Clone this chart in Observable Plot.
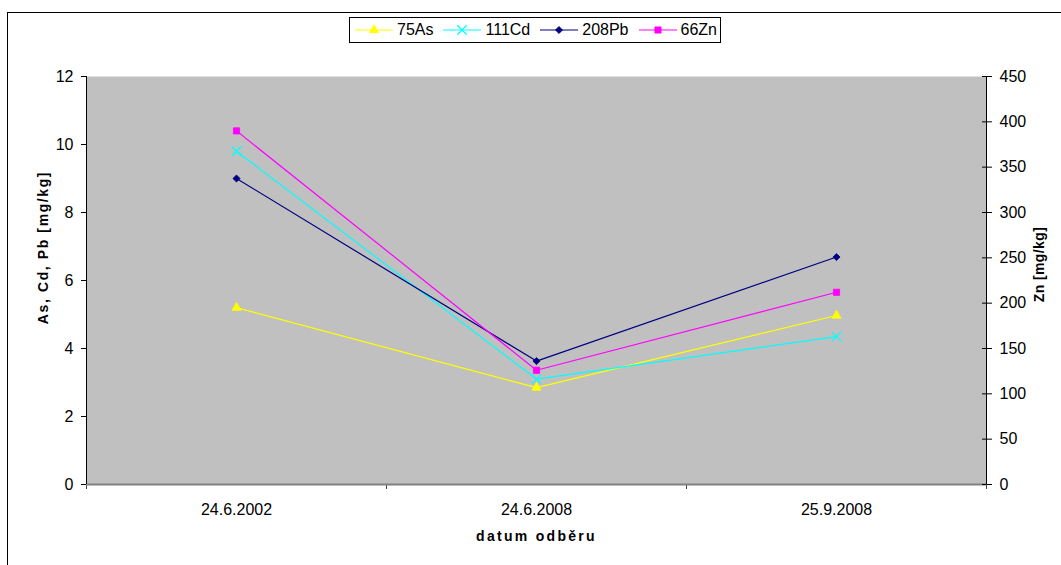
<!DOCTYPE html>
<html>
<head>
<meta charset="utf-8">
<script src="https://cdn.jsdelivr.net/npm/d3@7"></script>
<script src="https://cdn.jsdelivr.net/npm/@observablehq/plot@0.6"></script>
<style>
  body { margin: 0; background: #fff; font-family: "Liberation Sans", Arial, sans-serif; }
  #chart { position: relative; width: 1061px; height: 565px; overflow: hidden; }
  #chart svg.plot { position: absolute; left: 0; top: 0; }
  #frame { position: absolute; left: 7px; top: 12px; width: 1100px; height: 600px; border: 1px solid #000; }
  #legend {
    position: absolute; left: 349px; top: 17px; height: 26px; box-sizing: border-box; width: 372px;
    border: 1px solid #000; background: #fff; display: flex; align-items: center;
    padding-left: 5px; font-size: 16px; color: #000;
  }
  #legend .item { display: flex; align-items: center; margin-right: 10px; }
  #legend .item svg { display: block; margin-right: 4px; }
</style>
</head>
<body>
<div id="chart">
  <div id="frame"></div>
  <div id="legend"></div>
</div>
<script>
// Sampling dates (category axis)
const dates = ["24.6.2002", "24.6.2008", "25.9.2008"];

// Measured concentrations [mg/kg]
const as75 = [5.2, 2.85, 4.97];
const cd111 = [9.8, 3.1, 4.35];
const pb208 = [9.0, 3.63, 6.69];
const zn66 = [390, 126, 212];   // plotted against the secondary (right) axis

// Axis ticks
const leftTicks = [0, 2, 4, 6, 8, 10, 12];
const rightTicks = [0, 50, 100, 150, 200, 250, 300, 350, 400, 450];
const leftMax = 12, rightMax = 450;
const k = leftMax / rightMax; // secondary axis -> primary axis units

const seriesNames = ["75As", "111Cd", "208Pb", "66Zn"];
const seriesValues = [as75, cd111, pb208, zn66];
const onRight = [false, false, false, true];

// Styling per series
const colors = ["#ffff00", "#00ffff", "#000080", "#ff00ff"];
const symbols = ["triangle", "times", "diamond2", "square"];
const radii = [3.4, 4.4, 3.2, 3.5];

const rows = [];
seriesNames.forEach((name, s) => {
  seriesValues[s].forEach((v, i) => {
    rows.push({series: name, i, value: v, y: onRight[s] ? v * k : v});
  });
});

const idx = dates.map((_, i) => i);
const bounds = [-0.5, ...idx.map(i => i + 0.5)];

const titleStyle = {fontSize: 14, fontWeight: "bold", fill: "#000", textAnchor: "middle"};

const marks = [
  Plot.frame({fill: "#c0c0c0", stroke: null}),
  // category boundaries on the x axis
  Plot.axisX({ticks: bounds, tickSize: 5, tickFormat: () => "", stroke: "#404040", label: null}),
  Plot.axisX({ticks: idx, tickSize: 0, tickPadding: 19, tickFormat: i => dates[i], fontSize: 16, fill: "#000", label: null}),
  Plot.ruleY([0], {stroke: "#808080", strokeWidth: 2}),
  // primary axis
  Plot.ruleX([-0.5], {stroke: "#000"}),
  Plot.axisY({ticks: leftTicks, tickSize: 5, tickPadding: 8, fontSize: 16, stroke: "#000", label: null}),
  // secondary axis (Zn)
  Plot.ruleX([2.5], {stroke: "#000"}),
  Plot.axisY({anchor: "right", ticks: rightTicks.map(v => v * k), tickSize: 5, tickPadding: 8,
    tickFormat: d => String(Math.round(d / k)), fontSize: 16, stroke: "#000", label: null}),
  Plot.ruleY(rightTicks.map(v => v * k), {x1: 2.5, x2: 2.5, insetLeft: -4, stroke: "#000"}),
  // axis titles
  Plot.text(["As, Cd, Pb [mg/kg]"], {...titleStyle, frameAnchor: "left", rotate: -90, dx: -43, dy: -33}),
  Plot.text(["Zn [mg/kg]"], {...titleStyle, frameAnchor: "right", rotate: -90, dx: 53, dy: -16}),
  Plot.text(["datum odběru"], {...titleStyle, frameAnchor: "bottom", dy: 56, lineAnchor: "bottom"})
];

seriesNames.forEach((name, s) => {
  const data = rows.filter(d => d.series === name);
  marks.push(Plot.line(data, {x: "i", y: "y", stroke: colors[s], strokeWidth: 1.2}));
});
seriesNames.forEach((name, s) => {
  const data = rows.filter(d => d.series === name);
  const filled = symbols[s] !== "times";
  marks.push(Plot.dot(data, {x: "i", y: "y", symbol: () => symbols[s], r: radii[s],
    fill: filled ? colors[s] : "none", stroke: colors[s], strokeWidth: filled ? 0.8 : 1.3}));
});

const chart = Plot.plot({
  width: 1061,
  height: 565,
  marginLeft: 86,
  marginRight: 75,
  marginTop: 76,
  marginBottom: 81,
  style: {fontFamily: "'Liberation Sans', Arial, sans-serif", fontSize: "16px", color: "#000", background: "transparent"},
  x: {type: "linear", domain: [-0.5, dates.length - 0.5], axis: null},
  y: {domain: [0, leftMax], axis: null},
  symbol: {type: "identity"},
  marks
});
chart.classList.add("plot");
document.getElementById("chart").insertBefore(chart, document.getElementById("legend"));

// spaced-out axis titles
const spacing = {"datum odběru": "2.3px", "As, Cd, Pb [mg/kg]": "1.6px", "Zn [mg/kg]": "0.4px"};
d3.select(chart).selectAll("text").each(function() {
  const ls = spacing[this.textContent];
  if (ls) d3.select(this).style("letter-spacing", ls);
});

// Legend
const legend = d3.select("#legend");
const symMap = {triangle: d3.symbolTriangle, times: d3.symbolTimes, diamond2: d3.symbolDiamond2, square: d3.symbolSquare};
seriesNames.forEach((name, s) => {
  const item = legend.append("div").attr("class", "item");
  const svg = item.append("svg").attr("width", 38).attr("height", 16);
  svg.append("line").attr("x1", 0).attr("x2", 38).attr("y1", 8).attr("y2", 8)
    .attr("stroke", colors[s]).attr("stroke-width", 1.2);
  const filled = symbols[s] !== "times";
  svg.append("path").attr("transform", "translate(19,8)")
    .attr("d", d3.symbol(symMap[symbols[s]], radii[s] * radii[s] * Math.PI)())
    .attr("fill", filled ? colors[s] : "none").attr("stroke", colors[s])
    .attr("stroke-width", filled ? 0.8 : 1.3);
  item.append("span").text(name);
});
</script>
</body>
</html>
